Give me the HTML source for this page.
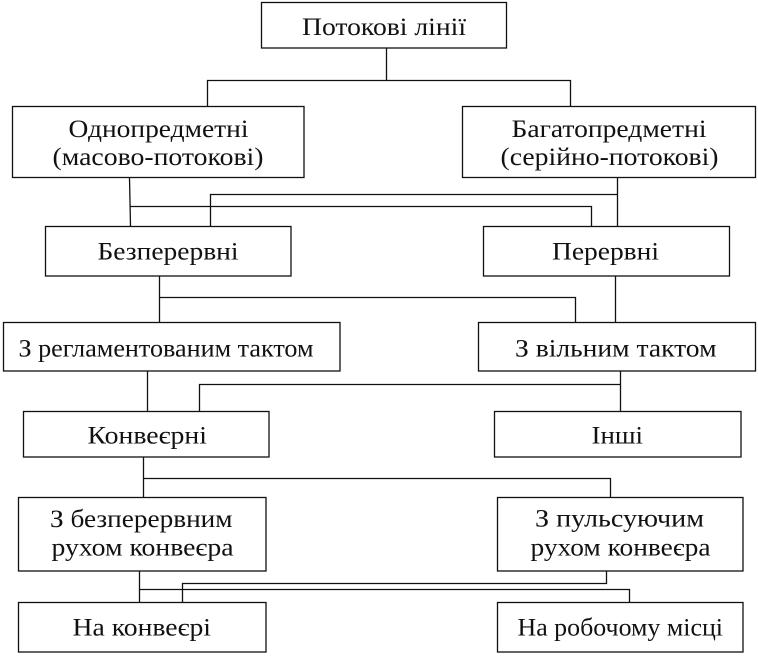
<!DOCTYPE html>
<html>
<head>
<meta charset="utf-8">
<style>
  html, body { margin:0; padding:0; background:#fff; }
  svg { display:block; }
  svg text { font-family: "Liberation Serif", "Times New Roman", "Times", "DejaVu Serif", serif; font-size:25px; fill:#111; }
</style>
</head>
<body>
<svg width="758" height="660" viewBox="0 0 758 660" xmlns="http://www.w3.org/2000/svg">
  <rect x="0" y="0" width="758" height="660" fill="#fff"/>
  <g fill="#fff" stroke="#111" stroke-width="1.3">
    <rect x="261.5" y="2.5" width="245" height="45.5"/>
    <rect x="12.5" y="106.5" width="291.5" height="71"/>
    <rect x="462.5" y="106.5" width="293" height="71"/>
    <rect x="45.5" y="226.5" width="245.5" height="49.5"/>
    <rect x="483.5" y="226.5" width="246" height="49.5"/>
    <rect x="3.5" y="322.5" width="336.5" height="48.5"/>
    <rect x="478.5" y="322.5" width="277" height="48.5"/>
    <rect x="23.5" y="411.5" width="245.5" height="45.5"/>
    <rect x="494.5" y="411.5" width="246.5" height="45.5"/>
    <rect x="18.5" y="497.5" width="247.5" height="73.5"/>
    <rect x="497.5" y="497.5" width="245.5" height="73.5"/>
    <rect x="18.5" y="602.5" width="247.5" height="49.5"/>
    <rect x="497.5" y="602.5" width="245.5" height="49.5"/>
  </g>
  <g fill="none" stroke="#111" stroke-width="1.3">
    <path d="M386.5 48 V80.5 M207.5 106 V80.5 H570.5 V106"/>
    <path d="M129.5 178 L130.5 226 M130.5 206.5 H591.5 V226"/>
    <path d="M617.5 178 V226 M617.5 194.5 H210.5 V226"/>
    <path d="M159.5 276 V322 M159.5 297.5 H575.5 V322"/>
    <path d="M615.5 276 V322"/>
    <path d="M147.5 371 V411"/>
    <path d="M620.5 371 V411 M620.5 384.5 H199.5 V411"/>
    <path d="M143.5 457 V497 M143.5 478.5 H610.5 V497"/>
    <path d="M139.5 571 V602 M139.5 589.5 H629.5 V602"/>
    <path d="M606.5 571 V583.5 H182.5 V602"/>
  </g>
  <g font-size="25">
    <text x="302" y="35" textLength="164" lengthAdjust="spacingAndGlyphs">Потокові лінії</text>
    <text x="68.5" y="137" textLength="180" lengthAdjust="spacingAndGlyphs">Однопредметні</text>
    <text x="52.5" y="165" textLength="211" lengthAdjust="spacingAndGlyphs">(масово-потокові)</text>
    <text x="511.5" y="137" textLength="195" lengthAdjust="spacingAndGlyphs">Багатопредметні</text>
    <text x="500.5" y="165" textLength="218" lengthAdjust="spacingAndGlyphs">(серійно-потокові)</text>
    <text x="97.5" y="259.5" textLength="141" lengthAdjust="spacingAndGlyphs">Безперервні</text>
    <text x="552" y="259.5" textLength="107" lengthAdjust="spacingAndGlyphs">Перервні</text>
    <text x="18.5" y="356.5" textLength="295" lengthAdjust="spacingAndGlyphs">З регламентованим тактом</text>
    <text x="515" y="356.5" textLength="201.5" lengthAdjust="spacingAndGlyphs">З вільним тактом</text>
    <text x="87.5" y="443.5" textLength="119.5" lengthAdjust="spacingAndGlyphs">Конвеєрні</text>
    <text x="591.5" y="443.5" textLength="51.5" lengthAdjust="spacingAndGlyphs">Інші</text>
    <text x="50" y="527" textLength="182.5" lengthAdjust="spacingAndGlyphs">З безперервним</text>
    <text x="51.5" y="555.5" textLength="182" lengthAdjust="spacingAndGlyphs">рухом конвеєра</text>
    <text x="535" y="526.5" textLength="169" lengthAdjust="spacingAndGlyphs">З пульсуючим</text>
    <text x="530.5" y="555.5" textLength="180" lengthAdjust="spacingAndGlyphs">рухом конвеєра</text>
    <text x="72.5" y="635.5" textLength="138.5" lengthAdjust="spacingAndGlyphs">На конвеєрі</text>
    <text x="517.5" y="635.5" textLength="205.5" lengthAdjust="spacingAndGlyphs">На робочому місці</text>
  </g>
</svg>
</body>
</html>
